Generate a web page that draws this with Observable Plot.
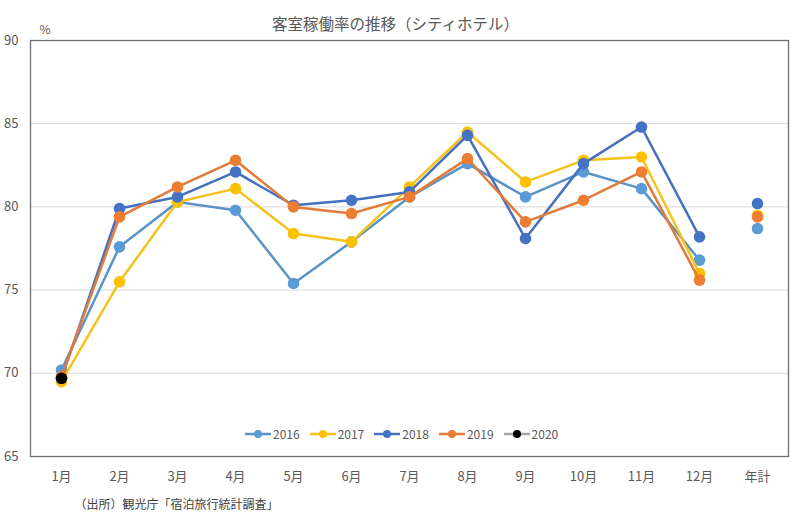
<!DOCTYPE html>
<html><head><meta charset="utf-8">
<script src="https://cdn.jsdelivr.net/npm/d3@7"></script>
<script src="https://cdn.jsdelivr.net/npm/@observablehq/plot@0.6"></script>
<style>
body{margin:0;background:#fff;font-family:"Noto Sans CJK JP","Noto Sans",sans-serif;}
#wrap{position:relative;width:800px;height:513px;}
#legend{position:absolute;top:425px;left:245px;display:flex;gap:10px;font-size:12px;color:#595959;line-height:18px;}
.item{display:flex;align-items:center;gap:2px}
</style></head><body><div id="wrap"><div id="legend"></div></div>
<script>
const months = ["1月","2月","3月","4月","5月","6月","7月","8月","9月","10月","11月","12月","年計"];
const years = ["2016","2017","2018","2019","2020"];
const colors = ["#5B9BD5","#FFC000","#4472C4","#ED7D31","#000000"];
const lineColors = ["#5A93C8","#F5C21B","#4470BE","#E27B38","#A5A5A5"];
const v2016 = [70.2,77.6,80.3,79.8,75.4,77.9,80.6,82.6,80.6,82.1,81.1,76.8,78.7];
const v2017 = [69.5,75.5,80.3,81.1,78.4,77.9,81.2,84.5,81.5,82.8,83.0,76.0,79.5];
const v2018 = [69.7,79.9,80.6,82.1,80.1,80.4,80.9,84.3,78.1,82.6,84.8,78.2,80.2];
const v2019 = [69.8,79.4,81.2,82.8,80.0,79.6,80.6,82.9,79.1,80.4,82.1,75.6,79.4];
const v2020 = [69.7,null,null,null,null,null,null,null,null,null,null,null,null];
const series = [v2016,v2017,v2018,v2019,v2020];
const yTicks = [65,70,75,80,85,90];
const title = "客室稼働率の推移（シティホテル）";
const unit = "%";
const caption = "（出所）観光庁「宿泊旅行統計調査」";

const font = '"Noto Sans CJK JP","Noto Sans",sans-serif';
const perYear = years.map((yr,k)=>months.map((m,i)=>({year:yr,month:m,value:series[k][i]})).filter(d=>d.value!=null));

const marks = [
  Plot.gridY(yTicks,{stroke:"#d9d9d9",strokeOpacity:1,strokeWidth:1}),
  Plot.frame({stroke:"#6f6f6f",strokeWidth:1.3}),
];
perYear.forEach((rows,k)=>{
  const lineRows = rows.filter(d=>d.month!=="年計");
  marks.push(Plot.line(lineRows,{x:"month",y:"value",stroke:lineColors[k],strokeWidth:2.5}));
  marks.push(Plot.dot(rows,{x:"month",y:"value",fill:colors[k],r:5.8}));
});
marks.push(Plot.text([title],{text:d=>d,frameAnchor:"top",dx:-14,dy:-22,fontSize:15.5,fill:"#595959"}));
marks.push(Plot.text([unit],{text:d=>d,frameAnchor:"top-left",dx:9,dy:-15,fontSize:12,fill:"#595959"}));
marks.push(Plot.text([caption],{text:d=>d,frameAnchor:"bottom-left",dx:44,dy:52,fontSize:12,fill:"#404040",textAnchor:"start"}));

const chart = Plot.plot({
  width:800,height:513,marginLeft:30,marginRight:12,marginTop:40,marginBottom:57,
  style:{fontFamily:font,fontSize:"13px",color:"#595959",background:"#fff",overflow:"visible"},
  x:{type:"point",domain:months,padding:0.5,label:null,tickSize:0,tickPadding:15},
  y:{domain:[65,90],ticks:yTicks,label:null,tickSize:0,tickPadding:12},
  marks
});
document.getElementById("wrap").prepend(chart);

const legend = document.getElementById("legend");
years.forEach((yr,k)=>{
  const it = document.createElement("div");
  it.className="item";
  it.innerHTML = `<svg width="26" height="10"><line x1="0" y1="5" x2="26" y2="5" stroke="${lineColors[k]}" stroke-width="2.5"/><circle cx="13" cy="5" r="4" fill="${colors[k]}"/></svg><span>${yr}</span>`;
  legend.appendChild(it);
});
</script></body></html>
